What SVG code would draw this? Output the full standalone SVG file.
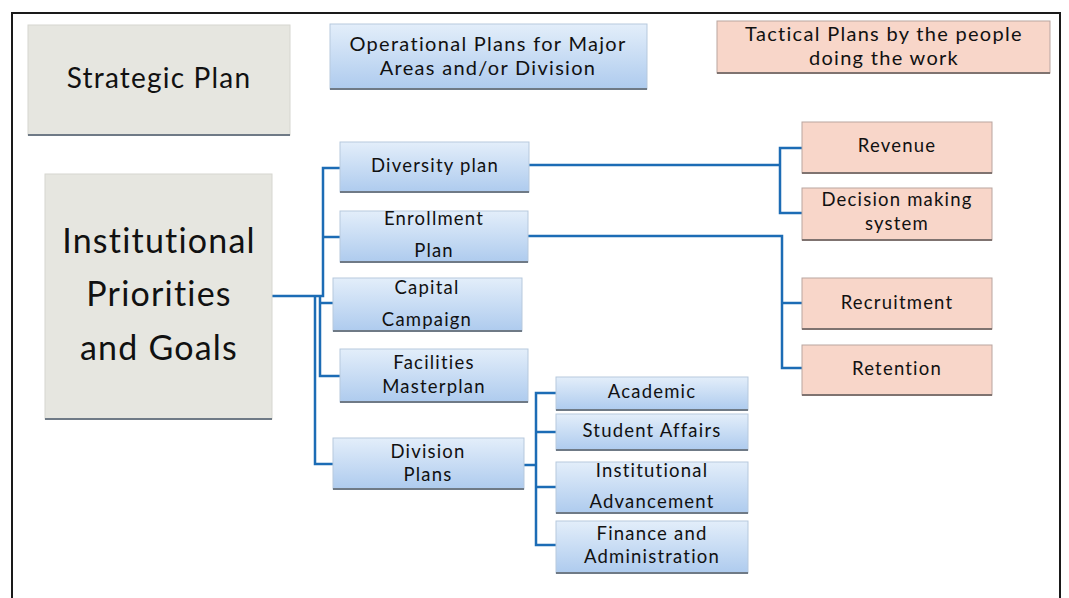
<svg xmlns="http://www.w3.org/2000/svg" width="1069" height="598" viewBox="0 0 1069 598">
<defs>
<linearGradient id="blue" x1="0" y1="0" x2="0" y2="1">
<stop offset="0" stop-color="#e3eefa"/>
<stop offset="1" stop-color="#aecbee"/>
</linearGradient>
<style>
text{font-family:Lato,"Liberation Sans","DejaVu Sans",sans-serif;fill:#111111;text-anchor:middle}
.gray{fill:#e6e6e0;stroke:#d6d6d0;stroke-width:1}
.blue{fill:url(#blue);stroke:#b7c9dd;stroke-width:1}
.pink{fill:#f8d6c9;stroke:#b9a5a0;stroke-width:1}
.sh{stroke:#6f7a86;stroke-width:2;fill:none}
.shp{stroke:#7f7370;stroke-width:2;fill:none}
.t17{font-size:18.5px;letter-spacing:1.2px}
.t19{font-size:20px;letter-spacing:1.3px}
.big{font-size:34px;letter-spacing:1.2px}
.conn path{fill:none;stroke:#1c6cb5;stroke-width:2.5;stroke-linejoin:miter}
</style>
</defs>
<rect x="0" y="0" width="1069" height="598" fill="#ffffff"/>
<path d="M12,600 V13 H1060 V600" fill="none" stroke="#1a1a1a" stroke-width="2"/>

<g class="conn">
<path d="M272,296 H323 V168 H340"/>
<path d="M323,237 H340"/>
<path d="M320,296 V376 H340"/>
<path d="M320,303 H333"/>
<path d="M315,296 V464 H333"/>
<path d="M524,465 H536"/>
<path d="M556,393 H536 V545 H556"/>
<path d="M536,432 H556"/>
<path d="M536,487 H556"/>
<path d="M529,165 H780"/>
<path d="M802,148 H780 V213 H802"/>
<path d="M528,236 H782 V368 H802"/>
<path d="M782,303 H802"/>
</g>

<g id="strategic">
<rect class="gray" x="28" y="25" width="262" height="110"/>
<path class="sh" d="M28,135 H290"/>
<text x="159" y="88" style="font-size:28px;letter-spacing:1.2px">Strategic Plan</text>
</g>
<g id="operational">
<rect class="blue" x="330" y="24" width="317" height="65"/>
<path class="sh" d="M330,89 H647"/>
<text class="t19" x="488" y="51">Operational Plans for Major</text>
<text class="t19" x="488" y="75">Areas and/or Division</text>
</g>
<g id="tactical">
<rect class="pink" x="717" y="21" width="333" height="52"/>
<path class="shp" d="M717,73 H1050"/>
<text class="t19" x="884" y="41">Tactical Plans by the people</text>
<text class="t19" x="884" y="65">doing the work</text>
</g>
<g id="institutional">
<rect class="gray" x="45" y="174" width="227" height="245"/>
<path class="sh" d="M45,419 H272"/>
<text class="big" x="159" y="253">Institutional</text>
<text class="big" x="159" y="306">Priorities</text>
<text class="big" x="159" y="360">and Goals</text>
</g>
<g id="diversity">
<rect class="blue" x="340" y="142" width="189" height="50"/>
<path class="sh" d="M340,192 H529"/>
<text class="t17" x="435" y="172">Diversity plan</text>
</g>
<g id="enrollment">
<rect class="blue" x="340" y="211" width="188" height="51"/>
<path class="sh" d="M340,262 H528"/>
<text class="t17" x="434" y="225">Enrollment</text>
<text class="t17" x="434" y="257">Plan</text>
</g>
<g id="capital">
<rect class="blue" x="333" y="278" width="189" height="53"/>
<path class="sh" d="M333,331 H522"/>
<text class="t17" x="427" y="294">Capital</text>
<text class="t17" x="427" y="326">Campaign</text>
</g>
<g id="facilities">
<rect class="blue" x="340" y="349" width="188" height="53"/>
<path class="sh" d="M340,402 H528"/>
<text class="t17" x="434" y="369">Facilities</text>
<text class="t17" x="434" y="393">Masterplan</text>
</g>
<g id="division">
<rect class="blue" x="333" y="438" width="191" height="51"/>
<path class="sh" d="M333,489 H524"/>
<text class="t17" x="428" y="458">Division</text>
<text class="t17" x="428" y="481">Plans</text>
</g>
<g id="academic">
<rect class="blue" x="556" y="377" width="192" height="33"/>
<path class="sh" d="M556,410 H748"/>
<text class="t17" x="652" y="398">Academic</text>
</g>
<g id="student">
<rect class="blue" x="556" y="414" width="192" height="36"/>
<path class="sh" d="M556,450 H748"/>
<text class="t17" x="652" y="437">Student Affairs</text>
</g>
<g id="advancement">
<rect class="blue" x="556" y="462" width="192" height="51"/>
<path class="sh" d="M556,513 H748"/>
<text class="t17" x="652" y="477">Institutional</text>
<text class="t17" x="652" y="508">Advancement</text>
</g>
<g id="finance">
<rect class="blue" x="556" y="521" width="192" height="52"/>
<path class="sh" d="M556,573 H748"/>
<text class="t17" x="652" y="540">Finance and</text>
<text class="t17" x="652" y="563">Administration</text>
</g>
<g id="revenue">
<rect class="pink" x="802" y="122" width="190" height="51"/>
<path class="shp" d="M802,173 H992"/>
<text class="t17" x="897" y="152">Revenue</text>
</g>
<g id="decision">
<rect class="pink" x="802" y="188" width="190" height="52"/>
<path class="shp" d="M802,240 H992"/>
<text class="t17" x="897" y="206">Decision making</text>
<text class="t17" x="897" y="230">system</text>
</g>
<g id="recruitment">
<rect class="pink" x="802" y="278" width="190" height="51"/>
<path class="shp" d="M802,329 H992"/>
<text class="t17" x="897" y="309">Recruitment</text>
</g>
<g id="retention">
<rect class="pink" x="802" y="345" width="190" height="50"/>
<path class="shp" d="M802,395 H992"/>
<text class="t17" x="897" y="375">Retention</text>
</g>
</svg>
